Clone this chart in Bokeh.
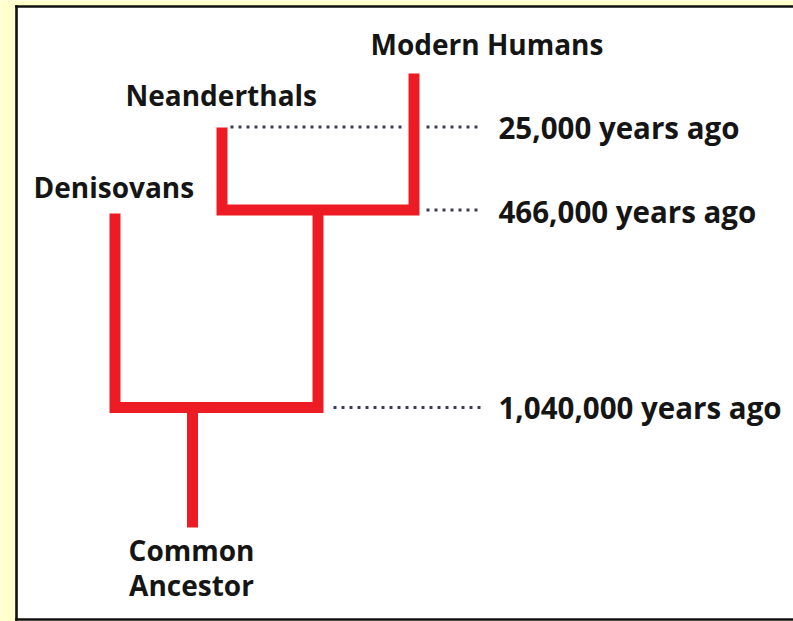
from bokeh.plotting import figure
from bokeh.models import Range1d, ColumnDataSource
from bokeh.core.properties import value
from bokeh.embed import file_html
from bokeh.resources import INLINE

# ---------------- data ----------------
taxa = ["Denisovans", "Neanderthals", "Modern Humans"]
ancestor_lines = ["Common", "Ancestor"]
event_years = [25000, 466000, 1040000]
event_labels = ["25,000 years ago", "466,000 years ago", "1,040,000 years ago"]

# ---------------- layout (page pixel space) ----------------
W, H = 793, 621
leaf_x = {"Denisovans": 114.5, "Neanderthals": 221.5, "Modern Humans": 413.5}
leaf_tip = {"Denisovans": 213, "Neanderthals": 127, "Modern Humans": 73}
level_y = {25000: 126.5, 466000: 209.5, 1040000: 407}
clade_x = (leaf_x["Neanderthals"] + leaf_x["Modern Humans"]) / 2
root_x = 192
root_bottom = 527
label_pos = {"Denisovans": (33, 186), "Neanderthals": (125, 94), "Modern Humans": (370, 43.5)}
dot_spans = {25000: [(230, 403), (426, 480)], 466000: [(426, 480)], 1040000: [(333, 480)]}
year_label_pos = {25000: (498, 126.5), 466000: (498, 210.5), 1040000: (498, 406.5)}
ancestor_xy = (191, 549.5, 35)
panel = dict(left=16, top=6, bottom=619, right=W)

RED = "#ED1C24"
FONT = value("Open Sans")

p = figure(width=W, height=H, output_backend="svg", toolbar_location=None,
           x_range=Range1d(0, W), y_range=Range1d(H, 0),
           x_axis_type=None, y_axis_type=None, min_border=0,
           background_fill_color="white", border_fill_color="#FFFFCC",
           outline_line_color=None)

# yellow margins outside the white panel (panel open on the right)
p.quad(left=[0, 0, 0], right=[panel["left"], W, W],
       top=[0, 0, panel["bottom"]], bottom=[H, panel["top"], H],
       fill_color="#FFFFCC", line_color=None)
# dark left/top/bottom border of the panel
p.segment(x0=[panel["left"], panel["left"] - 1.3, panel["left"] - 1.3],
          y0=[panel["top"] - 1.3, panel["top"], panel["bottom"]],
          x1=[panel["left"], panel["right"], panel["right"]],
          y1=[panel["bottom"] + 1.3, panel["top"], panel["bottom"]],
          line_color="#111111", line_width=2.6, line_cap="butt")

# tree branches
N, M, D = "Neanderthals", "Modern Humans", "Denisovans"
y466, y1040 = level_y[466000], level_y[1040000]
xs = [
    [leaf_x[N], leaf_x[N], leaf_x[M], leaf_x[M]],
    [leaf_x[D], leaf_x[D], clade_x, clade_x],
    [root_x, root_x],
]
ys = [
    [leaf_tip[N], y466, y466, leaf_tip[M]],
    [leaf_tip[D], y1040, y1040, y466],
    [y1040, root_bottom],
]
p.multi_line(xs=xs, ys=ys, line_color=RED, line_width=11,
             line_join="miter", line_cap="butt")

# dotted time guides
dxs, dys = [], []
for yr in event_years:
    for a, b in dot_spans[yr]:
        dxs.append([a, b])
        dys.append([level_y[yr], level_y[yr]])
p.multi_line(xs=dxs, ys=dys, line_color="#3c3c58", line_width=3,
             line_dash="3 5", line_cap="butt")

# taxon labels
src = ColumnDataSource(dict(
    x=[label_pos[t][0] for t in taxa],
    y=[label_pos[t][1] for t in taxa],
    t=taxa))
p.text(x="x", y="y", text="t", source=src, text_font=FONT, text_font_style="bold",
       text_font_size="28px", text_color="#151515", text_baseline="middle",
       text_align="left")

# year labels
ysrc = ColumnDataSource(dict(
    x=[year_label_pos[yr][0] for yr in event_years],
    y=[year_label_pos[yr][1] for yr in event_years],
    t=event_labels))
p.text(x="x", y="y", text="t", source=ysrc, text_font=FONT, text_font_style="bold",
       text_font_size="29.5px", text_color="#151515", text_baseline="middle",
       text_align="left")

# common ancestor label
ax, ay, dy = ancestor_xy
asrc = ColumnDataSource(dict(
    x=[ax] * len(ancestor_lines),
    y=[ay + i * dy for i in range(len(ancestor_lines))],
    t=ancestor_lines))
p.text(x="x", y="y", text="t", source=asrc, text_font=FONT, text_font_style="bold",
       text_font_size="28px", text_color="#151515", text_baseline="middle",
       text_align="center")

template = ("{% block postamble %}<style>html, body { background-color: #FFFFCC; "
            "overflow: hidden; }</style>{% endblock %}")
try:
    html = file_html(p, INLINE, title="Human lineage", template=template)
except Exception:
    html = file_html(p, INLINE, title="Human lineage")
open("out.html", "w").write(html)
